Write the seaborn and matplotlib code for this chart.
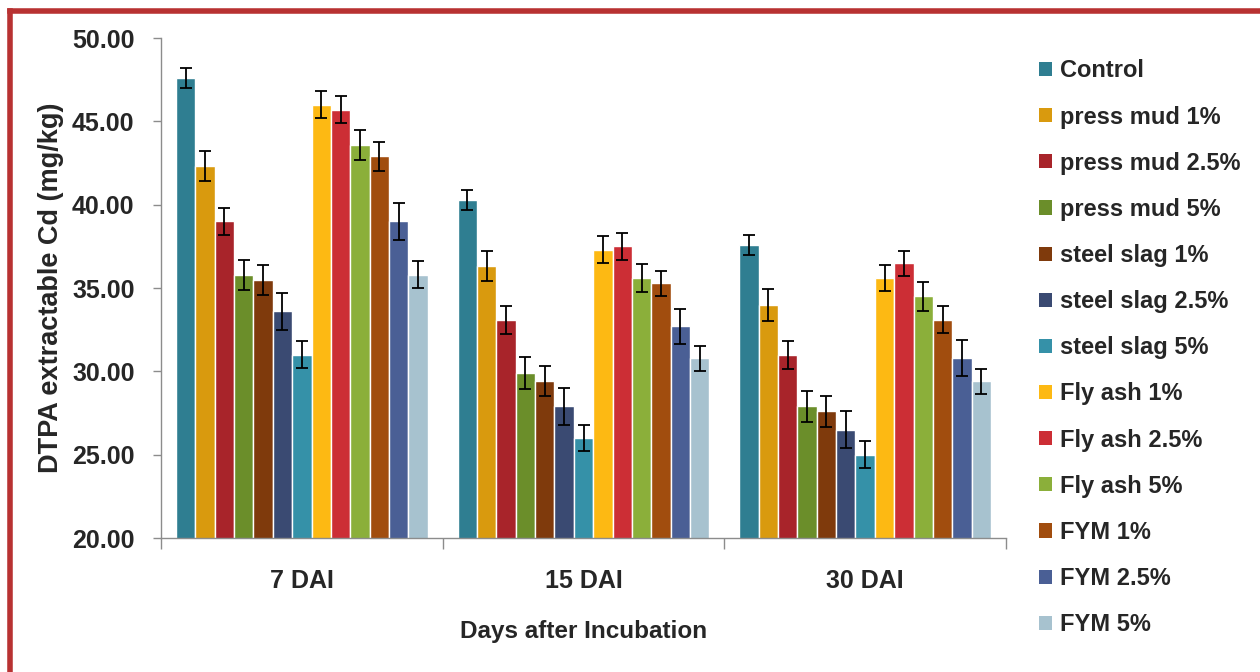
import numpy as np
import pandas as pd
import matplotlib
matplotlib.use("Agg")
import matplotlib.pyplot as plt
import seaborn as sns
from matplotlib.patches import Patch
from matplotlib.lines import Line2D
from matplotlib.ticker import FixedLocator, FormatStrFormatter

groups = ["7 DAI", "15 DAI", "30 DAI"]
treatments = ["Control", "press mud 1%", "press mud 2.5%", "press mud 5%",
              "steel slag 1%", "steel slag 2.5%", "steel slag 5%",
              "Fly ash 1%", "Fly ash 2.5%", "Fly ash 5%",
              "FYM 1%", "FYM 2.5%", "FYM 5%"]

values_7dai = [47.6, 42.3, 39.0, 35.8, 35.5, 33.6, 31.0, 46.0, 45.7, 43.6, 42.9, 39.0, 35.8]
values_15dai = [40.3, 36.3, 33.1, 29.9, 29.4, 27.9, 26.0, 37.3, 37.5, 35.6, 35.3, 32.7, 30.8]
values_30dai = [37.6, 34.0, 31.0, 27.9, 27.6, 26.5, 25.0, 35.6, 36.5, 34.5, 33.1, 30.8, 29.4]

err_7dai = [0.6, 0.9, 0.8, 0.9, 0.9, 1.1, 0.8, 0.8, 0.8, 0.9, 0.85, 1.1, 0.8]
err_15dai = [0.6, 0.9, 0.85, 0.95, 0.9, 1.1, 0.8, 0.8, 0.8, 0.85, 0.75, 1.05, 0.75]
err_30dai = [0.6, 0.95, 0.85, 0.95, 0.95, 1.1, 0.8, 0.8, 0.75, 0.85, 0.8, 1.1, 0.75]

colors = ["#2F7E91", "#D99A0E", "#A8242A", "#6B8E2A", "#7F3A0C", "#3A4A72", "#3591A8",
          "#FDB913", "#CC2E35", "#8BAF3A", "#A14D0E", "#4A5F95", "#A7C2CF"]

rows = []
for g, vals, errs in [(groups[0], values_7dai, err_7dai),
                      (groups[1], values_15dai, err_15dai),
                      (groups[2], values_30dai, err_30dai)]:
    for t, v, e in zip(treatments, vals, errs):
        rows.append({"group": g, "treatment": t, "value": v, "err": e})
df = pd.DataFrame(rows)

sns.set_style("white")
plt.rcParams["font.family"] = ["Liberation Sans", "DejaVu Sans"]
plt.rcParams["font.weight"] = "bold"

fig = plt.figure(figsize=(12.6, 6.72), dpi=100)
ax = fig.add_axes([161 / 1260, 1 - 538 / 672, (1006 - 161) / 1260, (538 - 38) / 672])

sns.barplot(data=df, x="group", y="value", hue="treatment", order=groups,
            hue_order=treatments, palette=colors, width=0.894, gap=0,
            errorbar=None, saturation=1, legend=False, ax=ax)

for t, cont in zip(treatments, ax.containers):
    sub = df[df["treatment"] == t].set_index("group").loc[groups]
    xs = [p.get_x() + p.get_width() / 2 for p in cont.patches]
    hs = [p.get_height() for p in cont.patches]
    ax.errorbar(xs, hs, yerr=sub["err"].values, fmt="none", ecolor="black",
                elinewidth=1.3, capsize=4.5, capthick=1.3, zorder=5)

ax.set_ylim(20, 50)
ax.set_xlim(-0.5, 2.5)
ax.yaxis.set_major_locator(FixedLocator(np.arange(20, 50.1, 5)))
ax.yaxis.set_major_formatter(FormatStrFormatter("%.2f"))
ax.xaxis.set_minor_locator(FixedLocator([-0.5, 0.5, 1.5, 2.5]))

for s in ["top", "right"]:
    ax.spines[s].set_visible(False)
for s in ["left", "bottom"]:
    ax.spines[s].set_color("#8C8C8C")
    ax.spines[s].set_linewidth(1.0)

ax.tick_params(axis="y", which="major", left=True, length=6, width=1, color="#8C8C8C",
               direction="out", pad=13)
ax.tick_params(axis="x", which="major", bottom=False, length=0, pad=22)
ax.tick_params(axis="x", which="minor", bottom=True, length=8, width=1, color="#8C8C8C",
               direction="out")

for lab in ax.get_yticklabels() + ax.get_xticklabels():
    lab.set_fontsize(18)
    lab.set_fontweight("bold")

ax.set_xlabel("Days after Incubation", fontsize=17.5, fontweight="bold", labelpad=20)
ax.set_ylabel("DTPA extractable Cd (mg/kg)", fontsize=19.5, fontweight="bold", labelpad=6)

handles = [Patch(facecolor=c, edgecolor="none") for c in colors]
fig.legend(handles, treatments, loc="upper left", bbox_to_anchor=(1030 / 1260, 1 - 50 / 672),
           frameon=False, prop={"weight": "bold", "size": 17}, handlelength=0.55,
           handleheight=0.55, handletextpad=0.3, labelspacing=0.98, borderaxespad=0)

border_color = "#B83232"
fig.add_artist(Line2D([9.5 / 1260, 9.5 / 1260], [0, 1 - 11 / 672], transform=fig.transFigure,
                      color=border_color, linewidth=4, solid_capstyle="projecting"))
fig.add_artist(Line2D([9.5 / 1260, 1], [1 - 11 / 672, 1 - 11 / 672], transform=fig.transFigure,
                      color=border_color, linewidth=4, solid_capstyle="projecting"))

fig.savefig("out.png", dpi=100)
